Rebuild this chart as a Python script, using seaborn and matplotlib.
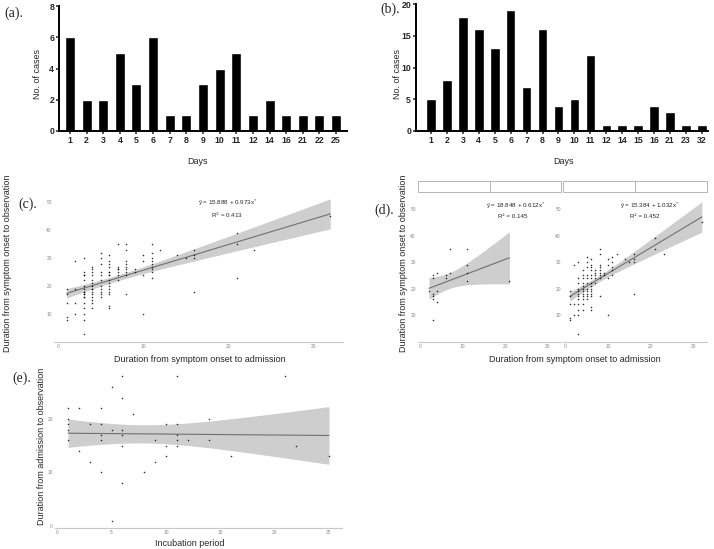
import matplotlib.pyplot as plt
import matplotlib.patches as mpatches
import seaborn as sns
import numpy as np

W, H = 714, 549

# (a) / (b) bar data
days_a = ["1", "2", "3", "4", "5", "6", "7", "8", "9", "10", "11", "12", "14", "16", "21", "22", "25"]
cases_a = [6, 2, 2, 5, 3, 6, 1, 1, 3, 4, 5, 1, 2, 1, 1, 1, 1]
days_b = ["1", "2", "3", "4", "5", "6", "7", "8", "9", "10", "11", "12", "14", "15", "16", "21", "23", "32"]
cases_b = [5, 8, 18, 16, 13, 19, 7, 16, 4, 5, 12, 1, 1, 1, 4, 3, 1, 1]

# (d) left facet: onset->admission vs onset->observation
g1_x = [2, 3, 3, 3, 3, 3, 3, 4, 4, 4, 6, 6, 7, 7, 11, 11, 11, 11, 21]
g1_y = [19, 25, 24, 18, 17, 16, 8, 26, 19, 15, 25, 24, 35, 26, 35, 29, 26, 23, 23]

# (d) right facet
g2_x = ([1] * 5 + [2] * 3 + [3] * 12 + [4] * 12 + [5] * 11 + [6] * 14 + [7] * 5 + [8] * 9
        + [9] * 2 + [10] * 4 + [11] * 5 + [12, 14, 15] + [16] * 4 + [21, 21, 23, 32])
g2_y = ([19, 17, 14, 9, 8]
        + [29, 14, 10]
        + [30, 24, 22, 20, 19, 18, 17, 16, 14, 12, 10, 3]
        + [27, 25, 24, 22, 21, 20, 19, 18, 17, 16, 14, 12]
        + [32, 30, 28, 25, 24, 22, 20, 19, 18, 17, 16]
        + [31, 29, 28, 27, 25, 24, 22, 21, 20, 19, 18, 17, 13, 12]
        + [27, 26, 25, 24, 22]
        + [35, 33, 29, 28, 27, 26, 25, 24, 17]
        + [26, 25]
        + [31, 29, 24, 10]
        + [32, 30, 28, 27, 25]
        + [33, 31, 30]
        + [33, 31, 30, 18]
        + [39, 35, 33, 45])

# (c) all cases
all_x = g1_x + g2_x
all_y = g1_y + g2_y

# (e) incubation period vs admission->observation
inc_x = [1, 2, 4, 1, 1, 1, 1, 2, 3, 3, 4, 4, 4, 4, 5, 5, 5, 6, 6, 6, 6, 6, 6, 7, 8, 9, 9,
         10, 10, 10, 11, 11, 11, 11, 11, 12, 14, 14, 16, 21, 22, 25]
inc_y = [22, 22, 22, 20, 19, 18, 16, 14, 19, 12, 19, 17, 16, 10, 26, 18, 1, 28, 24, 18, 17, 15, 8, 21, 10, 16, 12,
         19, 15, 13, 28, 19, 17, 16, 15, 16, 20, 16, 13, 28, 15, 13]

sns.set_style("white")
plt.rcParams["font.family"] = ["Liberation Sans", "DejaVu Sans"]

fig = plt.figure(figsize=(7.14, 5.49), dpi=100)


def box(x0, y0, x1, y1):
    return fig.add_axes([x0 / W, 1 - y1 / H, (x1 - x0) / W, (y1 - y0) / H])


def ftext(x, y, s, **kw):
    kw.setdefault("ha", "center")
    kw.setdefault("va", "center")
    fig.text(x / W, 1 - y / H, s, **kw)


def t975(df):
    # 97.5% Student t quantile (Cornish-Fisher expansion)
    z = 1.959964
    return z + (z**3 + z) / (4 * df) + (5 * z**5 + 16 * z**3 + 3 * z) / (96 * df**2)


def bar_panel(ax, days, cases, ymax, yticks, xlim):
    sns.barplot(x=days, y=cases, color="black", saturation=1, width=0.6, ax=ax)
    ax.set_ylim(0, ymax)
    ax.set_yticks(yticks)
    ax.set_xlim(*xlim)
    sns.despine(ax=ax)
    for s in ["left", "bottom"]:
        ax.spines[s].set_linewidth(1.4)
        ax.spines[s].set_color("black")
    ax.tick_params(bottom=True, left=True, length=2.5, width=1.1, labelsize=6.3, pad=1, direction="out")
    for lab in ax.get_xticklabels() + ax.get_yticklabels():
        lab.set_fontweight("bold")
    ax.set_xlabel("")
    ax.set_ylabel("")


def reg_panel(ax, x, y, xlim, ylim, xticks, yticks):
    x = np.asarray(x, float)
    y = np.asarray(y, float)
    sns.regplot(x=x, y=y, ax=ax, ci=None, color="black",
                scatter_kws=dict(s=1.3, linewidths=0, zorder=3),
                line_kws=dict(color="#707070", lw=0.8, zorder=2))
    # 95% confidence band of the linear fit
    n = len(x)
    b1, b0 = np.polyfit(x, y, 1)
    grid = np.linspace(x.min(), x.max(), 100)
    fit = b0 + b1 * grid
    resid = y - (b0 + b1 * x)
    s = np.sqrt(resid @ resid / (n - 2))
    se = s * np.sqrt(1 / n + (grid - x.mean()) ** 2 / ((x - x.mean()) ** 2).sum())
    tq = t975(n - 2)
    ax.fill_between(grid, fit - tq * se, fit + tq * se, color="#cecece", lw=0, zorder=1)
    ax.set_xlim(*xlim)
    ax.set_ylim(*ylim)
    ax.set_xticks(xticks)
    ax.set_yticks(yticks)
    for sp in ["left", "top", "right"]:
        ax.spines[sp].set_visible(False)
    ax.spines["bottom"].set_color("#c8c8c8")
    ax.spines["bottom"].set_linewidth(0.8)
    ax.tick_params(length=0, labelsize=3.5, labelcolor="#888888", pad=1.5)
    ax.set_xlabel("")
    ax.set_ylabel("")


# (a)
ax_a = box(59, 6, 347, 131)
bar_panel(ax_a, days_a, cases_a, 8, [0, 2, 4, 6, 8], (-0.66, 16.66))
ftext(37, 74, "No. of cases", rotation=90, fontsize=6.5)
ftext(197, 162, "Days", fontsize=6.5)
ftext(14, 13, "(a).", family="Liberation Serif", fontsize=10)

# (b)
ax_b = box(416, 4, 708, 131)
bar_panel(ax_b, days_b, cases_b, 20, [0, 5, 10, 15, 20], (-0.94, 17.38))
ftext(397, 74, "No. of cases", rotation=90, fontsize=6.5)
ftext(563, 162, "Days", fontsize=6.5)
ftext(390, 9, "(b).", family="Liberation Serif", fontsize=10)

# (c)
ax_c = box(54, 191, 343, 342)
reg_panel(ax_c, all_x, all_y, (-0.5, 33.5), (0, 54), [0, 10, 20, 30], [10, 20, 30, 40, 50])
ax_c.text(0.6, 0.92, "ŷ = 15.888 + 0.973x$^{*}$", transform=ax_c.transAxes, ha="center", va="center", fontsize=4.5)
ax_c.text(0.6, 0.84, "R$^{2}$ = 0.413", transform=ax_c.transAxes, ha="center", va="center", fontsize=4.5)
ftext(8, 263, "Duration from symptom onset to observation", rotation=90, fontsize=6.5)
ftext(200, 360, "Duration from symptom onset to admission", fontsize=6.5)
ftext(28, 204, "(c).", family="Liberation Serif", fontsize=10)

# (d)
ax_d1 = box(418, 194.5, 561, 341.5)
reg_panel(ax_d1, g1_x, g1_y, (-0.6, 33.2), (0, 55.5), [0, 10, 20, 30], [10, 20, 30, 40, 50])
ax_d2 = box(563, 194.5, 707, 341.5)
reg_panel(ax_d2, g2_x, g2_y, (-0.6, 33.2), (0, 55.5), [0, 10, 20, 30], [10, 20, 30, 40, 50])
ax_d1.text(0.68, 0.92, "ŷ = 18.848 + 0.612x$^{*}$", transform=ax_d1.transAxes, ha="center", va="center", fontsize=4.5)
ax_d1.text(0.66, 0.85, "R² = 0.145", transform=ax_d1.transAxes, ha="center", va="center", fontsize=4.5)
ax_d2.text(0.6, 0.92, "ŷ = 15.384 + 1.032x$^{*}$", transform=ax_d2.transAxes, ha="center", va="center", fontsize=4.5)
ax_d2.text(0.57, 0.85, "R² = 0.452", transform=ax_d2.transAxes, ha="center", va="center", fontsize=4.5)

# facet strips
for x0, x1 in [(418, 561), (563, 707)]:
    fig.patches.append(mpatches.Rectangle((x0 / W, 1 - 192 / H), (x1 - x0) / W, 11 / H,
                                          transform=fig.transFigure, facecolor="white",
                                          edgecolor="#aaaaaa", lw=0.6))
    xm = (x0 + x1) / 2
    fig.lines.append(plt.Line2D([xm / W, xm / W], [1 - 192 / H, 1 - 181 / H],
                                transform=fig.transFigure, color="#aaaaaa", lw=0.6))

ftext(403, 263, "Duration from symptom onset to observation", rotation=90, fontsize=6.5)
ftext(575, 360, "Duration from symptom onset to admission", fontsize=6.5)
ftext(384, 210, "(d).", family="Liberation Serif", fontsize=10)

# (e)
ax_e = box(55, 373, 342, 528)
reg_panel(ax_e, inc_x, inc_y, (-0.2, 26.2), (-0.4, 28.6), [0, 5, 10, 15, 20, 25], [0, 10, 20])
ftext(42, 446, "Duration from admission to observation", rotation=90, fontsize=6.5)
ftext(190, 543, "Incubation period", fontsize=6.5)
ftext(22, 378, "(e).", family="Liberation Serif", fontsize=10)

fig.savefig("out.png", dpi=100, facecolor="white")
